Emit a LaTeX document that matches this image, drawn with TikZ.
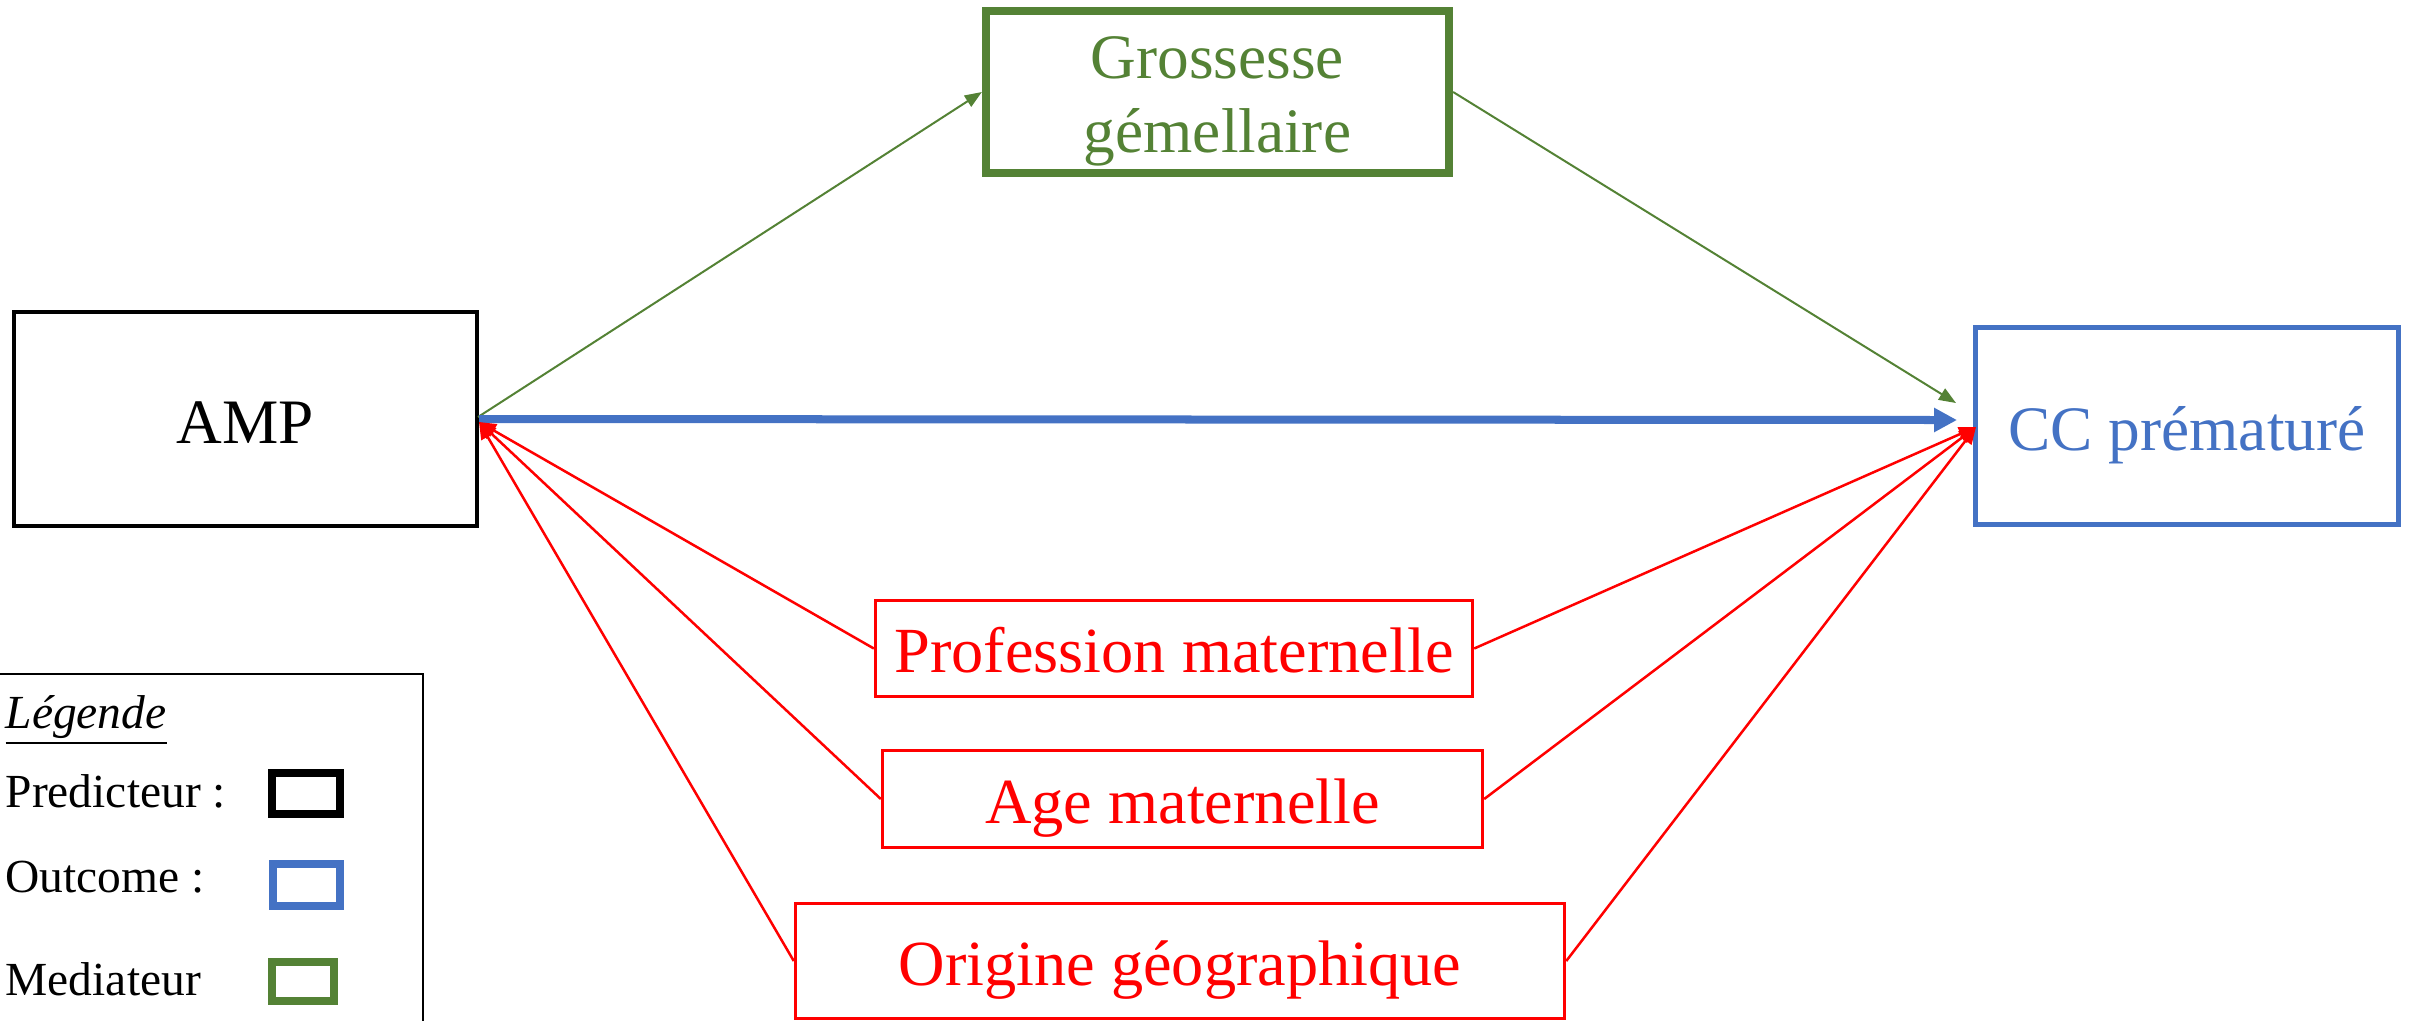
\documentclass[tikz,border=0pt]{standalone}
\usepackage{fontspec}
\setmainfont{Liberation Serif}
\usetikzlibrary{arrows.meta}
\definecolor{medgreen}{HTML}{548235}
\definecolor{outblue}{HTML}{4472C4}
\definecolor{confred}{HTML}{FF0000}
\tikzset{
  px/.style={line width=#1*0.2845pt},
  mainfont/.style={font=\fontsize{18pt}{21pt}\selectfont},
  redfont/.style={font=\fontsize{18.3pt}{21pt}\selectfont},
  legfont/.style={font=\fontsize{13.5pt}{16pt}\selectfont},
  onebox/.style={rectangle, draw, inner sep=0pt, text height=0.48cm, text depth=0cm},
  predbox/.style={onebox, draw=black, px=4, mainfont},
  outbox/.style={onebox, draw=outblue, text=outblue, px=5, mainfont},
  medbox/.style={rectangle, draw=medgreen, px=8, inner sep=0pt},
  confbox/.style={onebox, draw=confred, text=confred, px=3, redfont},
  greenarrow/.style={draw=medgreen, px=2, -{Triangle[length=0.17cm,width=0.13cm]}, fill=medgreen},
  bluearrow/.style={draw=outblue, px=8, -{Triangle[length=0.23cm,width=0.23cm]}, fill=outblue},
  redarrow/.style={draw=confred, px=2.5, -{Triangle[length=0.17cm,width=0.14cm]}, fill=confred},
  legtext/.style={legfont, anchor=base west, inner sep=0pt},
  legswatch/.style={rectangle, px=8, inner sep=0pt}
}
\begin{document}
\begin{tikzpicture}[x=0.01cm, y=-0.01cm]
\useasboundingbox (0,0) rectangle (2412,1020);

% main boxes
\node[predbox, minimum width=4.63cm, minimum height=2.14cm] (amp) at (245.5,419) {AMP};
\node[medbox, minimum width=4.63cm, minimum height=1.62cm] (gross) at (1217.5,92) {};
\node[mainfont, text=medgreen, anchor=base, inner sep=0pt] (grosstext) at (1217.5,78) {Grossesse};
\node[mainfont, text=medgreen, anchor=base, inner sep=0pt] (gemtext) at (1217.5,152) {gémellaire};
\node[outbox, minimum width=4.22cm, minimum height=1.96cm] (cc) at (2187,426) {CC prématuré\hspace{0.22cm}};

\node[confbox, minimum width=5.97cm, minimum height=0.96cm] (prof) at (1174,648.5) {Profession maternelle};
\node[confbox, minimum width=6.00cm, minimum height=0.97cm] (age) at (1182.5,799) {Age maternelle};
\node[confbox, minimum width=7.69cm, minimum height=1.15cm] (orig) at (1180,961) {Origine géographique};

% endpoints
\coordinate (ampR) at (479,422);
\coordinate (ampG) at (478,417);
\coordinate (ccR) at (1976,427);
\coordinate (bluetip) at (1957,420);
\coordinate (greentip) at (1956,403);

% connectors
\draw[greenarrow] (ampG) -- (gross.west);
\draw[greenarrow] (gross.east) -- (greentip);
\draw[bluearrow] (amp.east) -- (bluetip);

\draw[redarrow] (prof.west) -- (ampR);
\draw[redarrow] (age.west) -- (ampR);
\draw[redarrow] (orig.west) -- (ampR);
\draw[redarrow] (prof.east) -- (ccR);
\draw[redarrow] (age.east) -- (ccR);
\draw[redarrow] (orig.east) -- (ccR);

% legend
\draw[px=2] (-10,674) -- (423,674) -- (423,1040);
\node[legtext] (legtitle) at (5,728) {\underline{\textit{Légende}}};
\node[legtext] (legpred) at (5,807) {Predicteur :};
\node[legtext] (legout) at (5,892) {Outcome :};
\node[legtext] (legmed) at (5,995) {Mediateur};
\node[legswatch, draw=black, minimum width=0.68cm, minimum height=0.41cm] (swpred) at (306,793.5) {};
\node[legswatch, draw=outblue, minimum width=0.67cm, minimum height=0.42cm] (swout) at (306.5,885) {};
\node[legswatch, draw=medgreen, minimum width=0.62cm, minimum height=0.39cm] (swmed) at (303,981.5) {};
\end{tikzpicture}
\end{document}
